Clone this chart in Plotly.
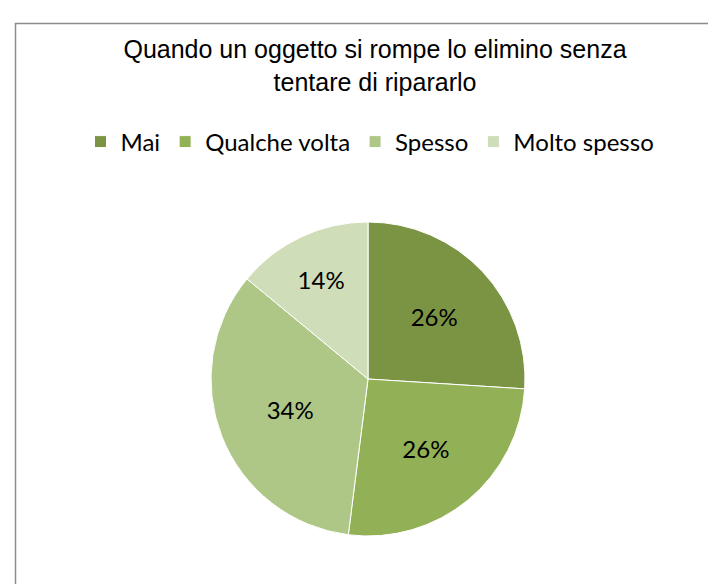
import plotly.graph_objects as go

categories = ["Mai", "Qualche volta", "Spesso", "Molto spesso"]
values = [26, 26, 34, 14]
colors = ["#7A9444", "#92B055", "#AEC787", "#CFDDB9"]
title_text = "Quando un oggetto si rompe lo elimino senza<br>tentare di ripararlo"

W, H = 716, 584
cx, cy, r = 360, 371, 157

fig = go.Figure(go.Pie(
    labels=categories,
    values=values,
    sort=False,
    direction="clockwise",
    rotation=0,
    marker=dict(colors=colors, line=dict(color="white", width=1)),
    textposition="inside",
    insidetextorientation="horizontal",
    textfont=dict(family="Lato, Carlito, Calibri, sans-serif", size=24, color="black"),
    texttemplate="%{percent:.0%}",
    hoverinfo="label+percent",
    domain=dict(x=[(cx - r) / W, (cx + r) / W], y=[(H - cy - r) / H, (H - cy + r) / H]),
))

fig.update_layout(
    width=W, height=H,
    margin=dict(l=0, r=0, t=0, b=0),
    paper_bgcolor="white",
    title=dict(
        text=title_text,
        x=367 / W, xanchor="center",
        y=1 - 50 / H, yanchor="top",
        font=dict(family="Liberation Sans, Arial, sans-serif", size=25, color="black"),
    ),
    legend=dict(
        orientation="h",
        x=362 / W, xanchor="center",
        y=1 - 134 / H, yanchor="middle",
        font=dict(family="Lato, Carlito, Calibri, sans-serif", size=24, color="black"),
        itemclick=False,
        traceorder="normal",
    ),
    shapes=[dict(
        type="rect", xref="paper", yref="paper",
        x0=7.5 / W, x1=1.02, y0=-0.02, y1=1 - 15.5 / H,
        line=dict(color="#8C8C8C", width=1.5), fillcolor="rgba(0,0,0,0)",
        layer="below",
    )],
)

fig.write_html("out.html")
